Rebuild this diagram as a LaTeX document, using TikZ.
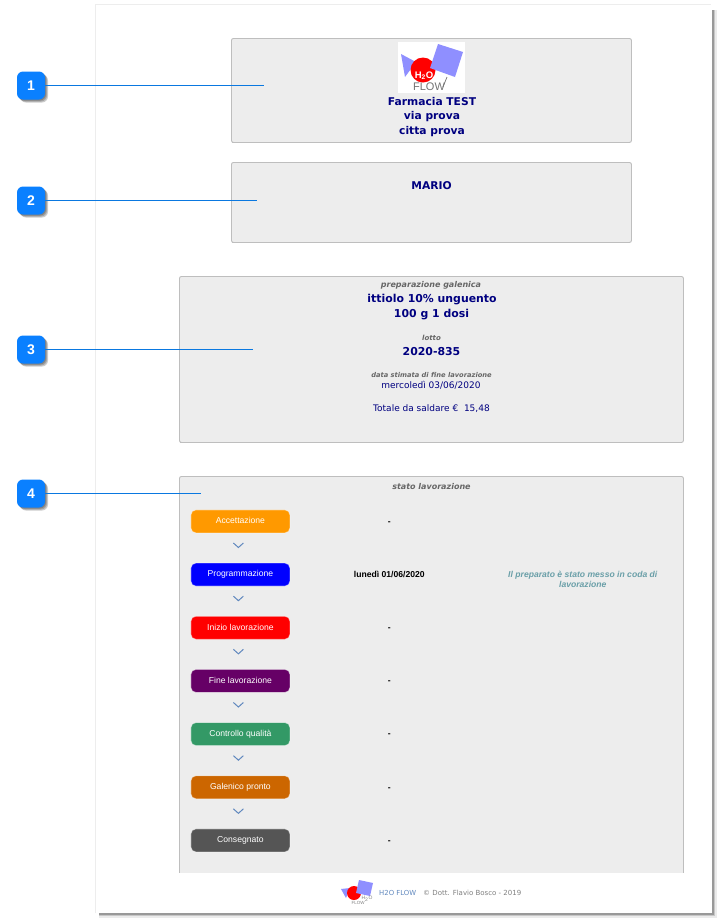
\documentclass[tikz,border=0pt]{standalone}
\usepackage{fontspec}
\setmainfont{DejaVu Sans}
\newfontfamily\arialfont{Liberation Sans}
\usepackage{tikz}
\usetikzlibrary{arrows.meta, positioning, calc, matrix, shadows}

\definecolor{panelgray}{HTML}{EDEDED}
\definecolor{panelline}{HTML}{BEBEBE}
\definecolor{navytext}{HTML}{000080}
\definecolor{labelgray}{HTML}{666666}
\definecolor{calloutblue}{HTML}{0A80FF}
\definecolor{leaderblue}{HTML}{0A78E0}
\definecolor{logoblue}{HTML}{8F8FFF}
\definecolor{chevblue}{HTML}{6088BE}
\definecolor{notegreen}{HTML}{6A9FA8}

\newcommand{\queuenote}{\smash{\raisebox{-8.3pt}{\begin{tabular}{@{}c@{}}Il preparato è stato messo in coda di\\lavorazione\end{tabular}}}}

\tikzset{
    panelbox/.style={draw=panelline, fill=panelgray, line width=0.9pt, rounded corners=2pt, anchor=north west, inner sep=0pt},
    softshadow/.style={drop shadow={shadow xshift=#1, shadow yshift=-#1, fill=black, opacity=.2}},
    callout/.style={fill=calloutblue, rounded corners=6pt, minimum width=28, minimum height=28, inner sep=0pt, text=white,
        font=\arialfont\fontsize{14}{14}\selectfont\bfseries, softshadow=3pt, softshadow=2pt, softshadow=1pt},
    leader/.style={draw=leaderblue, line width=0.8pt},
    titletext/.style={text=navytext, font=\fontsize{10.7}{12}\selectfont\bfseries, inner sep=0pt},
    bigtext/.style={text=navytext, font=\fontsize{10.9}{13}\selectfont\bfseries, inner sep=0pt},
    plaintext/.style={text=navytext, font=\fontsize{9}{11}\selectfont, inner sep=0pt},
    smalllabel/.style={text=labelgray, font=\fontsize{8}{9}\selectfont\bfseries\itshape, inner sep=0pt},
    stagebox/.style={draw=white, draw opacity=.45, line width=0.8pt, rounded corners=5pt, minimum width=99, minimum height=23, inner sep=0pt,
        text height=6.5, text depth=1.8, text=white, font=\arialfont\fontsize{8.6}{10}\selectfont},
    stagechev/.pic={\draw[chevblue, line width=1pt] (-7,-5) -- (-2,-0.5) -- (3,-5);},
}

\begin{document}
\begin{tikzpicture}[x=1pt, y=-1pt]
    \useasboundingbox (0,0) rectangle (720,922);
    \fill[white] (0,0) rectangle (720,922);

    % page
    \fill[black!8] (99,10) rectangle (716.5,917.5);
    \fill[black!22] (99,10) rectangle (715,916);
    \fill[black!40] (99,10) rectangle (713.5,914.5);
    \draw[black!7, line width=1.5pt] (95.5,913) -- (95.5,4.5) -- (711,4.5);
    \fill[white] (96,5) rectangle (711.5,913);

    % panels
    \node (panelA) [panelbox, minimum width=400, minimum height=104] at (231,38) {};
    \node (panelB) [panelbox, minimum width=400, minimum height=80] at (231,162) {};
    \node (panelC) [panelbox, minimum width=504, minimum height=166] at (179,276) {};
    \draw[panelline, line width=1.8pt] (232,142.5) -- (630,142.5) (232,242.5) -- (630,242.5) (180,442.5) -- (682,442.5);
    \node (panelD) [panelbox, minimum width=504, minimum height=420] at (179,476) {};

    % logo
    \fill[white] (398,42) rectangle (465,93);
    \fill[logoblue] (401,54) -- (416,62) -- (405,77) -- cycle;
    \fill[red] (423,70) circle (12.5);
    \fill[logoblue] (438,44) -- (463,52) -- (455,77) -- (430,68) -- cycle;
    \draw[black!55, line width=0.7pt] (443,87) -- (447,77);
    \node (logoH) [text=white, font=\arialfont\fontsize{9.5}{9}\selectfont\bfseries, inner sep=0pt] at (424,75.5) {H\textsubscript{2}O};
    \node (logoF) [text=black!55, font=\arialfont\fontsize{11}{11}\selectfont, inner sep=0pt] at (429,87) {FLOW};

    % texts
    \node (farmacia) [titletext] at (432,101.5) {Farmacia TEST};
    \node (via) [titletext] at (432,116.5) {via prova};
    \node (citta) [titletext] at (432,131.5) {citta prova};
    \node (mario) [titletext] at (431.5,185.5) {MARIO};

    \node (prepLabel) [smalllabel] at (431,285.5) {preparazione galenica};
    \node (prepName) [bigtext] at (432,299.5) {ittiolo 10\% unguento};
    \node (prepDose) [bigtext] at (431.5,314.5) {100 g 1 dosi};
    \node (lottoLabel) [smalllabel, font=\fontsize{7}{8}\selectfont\bfseries\itshape] at (431.5,337.5) {lotto};
    \node (lotto) [bigtext] at (431.5,351.5) {2020-835};
    \node (dataLabel) [smalllabel, font=\fontsize{6.7}{8}\selectfont\bfseries\itshape] at (431.5,374.5) {data stimata di fine lavorazione};
    \node (data) [plaintext] at (431,385.5) {mercoledì 03/06/2020};
    \node (totale) [plaintext] at (431.5,408.5) {Totale da saldare € ~15,48};
    \node (statoLabel) [smalllabel] at (431.5,486.5) {stato lavorazione};

    \matrix (stato) [matrix of nodes, anchor=north west, inner sep=0pt, outer sep=0pt,
      nodes={anchor=center, inner sep=0pt, minimum height=23},
      row sep=29.37pt,
      column sep=0pt,
      column 1/.style={nodes={stagebox}},
      column 2/.style={nodes={minimum width=198, text height=5.8, text depth=0, font=\arialfont\fontsize{8.6}{10}\selectfont\bfseries}},
      column 3/.style={nodes={minimum width=189, text=notegreen, font=\arialfont\fontsize{8.6}{10}\selectfont\bfseries\itshape}},
      ampersand replacement=\&
      ] at (190.5,509.5) {
      |[fill={rgb,255:red,255;green,153;blue,0}]| Accettazione \& - \& \\
      |[fill=blue]| Programmazione \& lunedì 01/06/2020 \& \queuenote \\
      |[fill=red]| Inizio lavorazione \& - \& \\
      |[fill={rgb,255:red,102;green,0;blue,102}]| Fine lavorazione \& - \& \\
      |[fill={rgb,255:red,51;green,153;blue,102}]| Controllo qualità \& - \& \\
      |[fill={rgb,255:red,204;green,102;blue,0}]| Galenico pronto \& - \& \\
      |[fill={rgb,255:red,85;green,85;blue,85}]| Consegnato \& - \& \\
    };
    \pic at ($(stato-1-1)!.5!(stato-2-1)$) {stagechev};
    \pic at ($(stato-2-1)!.5!(stato-3-1)$) {stagechev};
    \pic at ($(stato-3-1)!.5!(stato-4-1)$) {stagechev};
    \pic at ($(stato-4-1)!.5!(stato-5-1)$) {stagechev};
    \pic at ($(stato-5-1)!.5!(stato-6-1)$) {stagechev};
    \pic at ($(stato-6-1)!.5!(stato-7-1)$) {stagechev};

    % footer
    \fill[white] (96,873) rectangle (711.5,913);
    \fill[logoblue] (341,889) -- (350,888) -- (346,898) -- cycle;
    \fill[red] (354,893) circle (7);
    \fill[logoblue] (359,880) -- (373,883) -- (370,896) -- (356,893) -- cycle;
    \node (footH) [text=black!50, font=\arialfont\fontsize{5}{5}\selectfont, inner sep=0pt] at (367,899) {H\textsubscript{2}O};
    \node (footF) [text=black!50, font=\arialfont\fontsize{4.5}{5}\selectfont, inner sep=0pt] at (358,903) {FLOW};
    \node (footName) [text=chevblue, font=\fontsize{6.9}{8}\selectfont, inner sep=0pt, anchor=west] at (379,892.5) {H2O FLOW};
    \node (footCopy) [text=black!50, font=\fontsize{7}{8}\selectfont, inner sep=0pt, anchor=west] at (423,892.5) {© Dott. Flavio Bosco - 2019};

    % callouts
    \coordinate (endA) at (264,85.5);
    \coordinate (endB) at (257,200.5);
    \coordinate (endC) at (253,349.5);
    \coordinate (endD) at (201,493.5);
    \node (callA) [callout] at (31,85.5) {1};
    \node (callB) [callout] at (31,200.5) {2};
    \node (callC) [callout] at (31,349.5) {3};
    \node (callD) [callout] at (31,493.5) {4};
    \draw[leader] (callA) -- (endA);
    \draw[leader] (callB) -- (endB);
    \draw[leader] (callC) -- (endC);
    \draw[leader] (callD) -- (endD);
\end{tikzpicture}
\end{document}
